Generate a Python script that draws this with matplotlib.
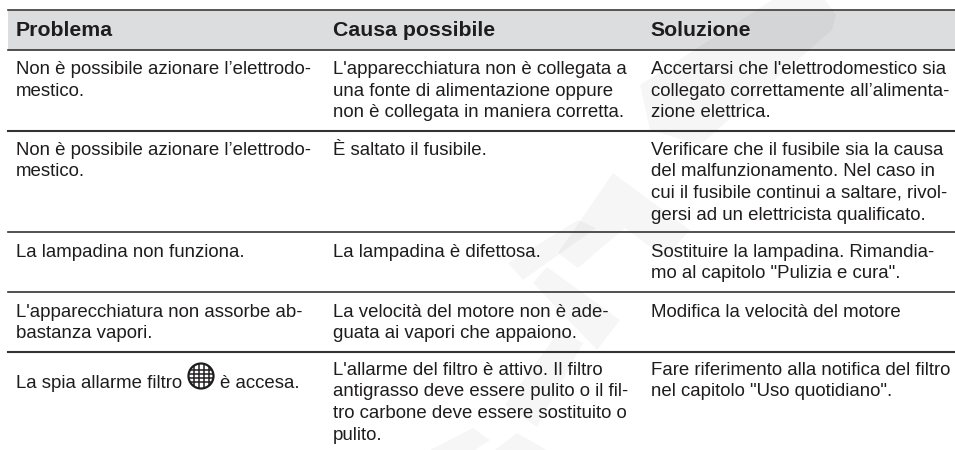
import matplotlib
matplotlib.use('Agg')
import matplotlib.pyplot as plt
from matplotlib.patches import Rectangle, Circle, Polygon

plt.rcParams['font.family'] = ['Liberation Sans', 'DejaVu Sans']

headers = ['Problema', 'Causa possibile', 'Soluzione']
col_x = [16, 333, 651]
row_lines = [50, 131, 232, 292, 352]
row_baselines = [[74, 74, 74], [155, 155, 155], [257, 257, 257], [317, 317, 317], [388, 375, 375]]
rows = [
    ["Non è possibile azionare l’elettrodo-\nmestico.",
     "L'apparecchiatura non è collegata a\nuna fonte di alimentazione oppure\nnon è collegata in maniera corretta.",
     "Accertarsi che l'elettrodomestico sia\ncollegato correttamente all’alimenta-\nzione elettrica."],
    ["Non è possibile azionare l’elettrodo-\nmestico.",
     "È saltato il fusibile.",
     "Verificare che il fusibile sia la causa\ndel malfunzionamento. Nel caso in\ncui il fusibile continui a saltare, rivol-\ngersi ad un elettricista qualificato."],
    ["La lampadina non funziona.",
     "La lampadina è difettosa.",
     "Sostituire la lampadina. Rimandia-\nmo al capitolo \"Pulizia e cura\"."],
    ["L'apparecchiatura non assorbe ab-\nbastanza vapori.",
     "La velocità del motore non è ade-\nguata ai vapori che appaiono.",
     "Modifica la velocità del motore"],
    ["La spia allarme filtro",
     "L'allarme del filtro è attivo. Il filtro\nantigrasso deve essere pulito o il fil-\ntro carbone deve essere sostituito o\npulito.",
     "Fare riferimento alla notifica del filtro\nnel capitolo \"Uso quotidiano\"."],
]
icon_tail = "è accesa."

# faint background logo shapes
watermark = [
    [(640, 85), (772, 0), (825, 0), (836, 15), (832, 30), (700, 145), (650, 130)],
    [(613, 173), (690, 230), (665, 258), (625, 228), (578, 268), (558, 253)],
    [(578, 220), (508, 263), (523, 280), (596, 228)],
    [(547, 267), (620, 320), (597, 350), (533, 283)],
    [(583, 343), (537, 427), (505, 405), (560, 330)],
    [(517, 433), (547, 450), (495, 450)],
    [(430, 450), (473, 428), (490, 440), (475, 450)],
]

fig = plt.figure(figsize=(9.55, 4.5), dpi=100)
ax = fig.add_axes([0, 0, 1, 1])
ax.set_xlim(0, 955)
ax.set_ylim(450, 0)
ax.axis('off')

ink = '#1f1c1d'
ax.add_patch(Rectangle((8, 10), 947, 40, color='#dcddde', lw=0, zorder=1))
for pts in watermark:
    ax.add_patch(Polygon(pts, closed=True, fc='black', alpha=0.035, lw=0, zorder=2))

ax.plot([8, 955], [10, 10], color='#3a3a3a', lw=1.2, zorder=3)
for y, w in zip(row_lines, [1.2, 1.5, 1.2, 1.2, 1.5]):
    ax.plot([8, 955], [y, y], color='#333333', lw=w, zorder=3)

for x, h in zip(col_x, headers):
    ax.text(x - 0.5, 36, h, fontsize=15.35, fontweight='bold', color=ink, va='baseline', zorder=4)

LINE = 21.5
FS = 13.45
for bases, row in zip(row_baselines, rows):
    for x, b, cell in zip(col_x, bases, row):
        for i, line in enumerate(cell.split('\n')):
            ax.text(x, b + i * LINE, line, fontsize=FS, color=ink, va='baseline', zorder=4)
ax.text(220, row_baselines[4][0], icon_tail, fontsize=FS, color=ink, va='baseline', zorder=4)

# filter icon
cx, cy, r = 201, 376, 12.5
clip = Circle((cx, cy), r, transform=ax.transData)
ax.add_patch(Circle((cx, cy), r, fc='white', ec=ink, lw=1.6, zorder=4))
for d in (-7.5, -2.5, 2.5, 7.5):
    l1, = ax.plot([cx + d, cx + d], [cy - r, cy + r], color=ink, lw=1.1, zorder=5)
    l1.set_clip_path(clip)
for d in (-6, -2, 2, 6):
    l2, = ax.plot([cx - r, cx + r], [cy + d, cy + d], color=ink, lw=1.1, zorder=5)
    l2.set_clip_path(clip)

fig.savefig('out.png', dpi=100, facecolor='white')
